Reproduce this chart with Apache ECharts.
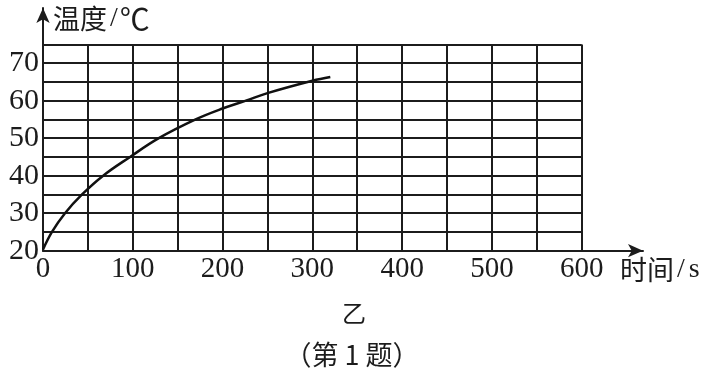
<!DOCTYPE html>
<html>
<head>
<meta charset="utf-8">
<script src="https://cdn.jsdelivr.net/npm/echarts@6/dist/echarts.min.js"></script>
<style>html,body{margin:0;padding:0;background:#fff}#c{width:714px;height:372px}</style>
</head>
<body>
<div id="c"></div>
<script>
// Data
const timeS = [0, 10, 24.5, 43.5, 67, 97, 129, 170, 200, 226, 250, 300, 320];
const tempC = [20.3, 25, 30, 35, 40, 45, 50, 55, 57.9, 60, 62, 65.3, 66.3];
const xLabels = [0, 100, 200, 300, 400, 500, 600];
const yLabels = [20, 30, 40, 50, 60, 70];
const yTitleName = '温度', yTitleUnit = '℃';
const xTitleName = '时间', xTitleUnit = 's';
const caption1 = '乙';
const caption2 = '（第 1 题）';

const ink = '#1c1c1c';
const serif = '"Liberation Serif", "DejaVu Serif", serif';
const cjkFont = '"Noto Sans CJK SC", serif';

const titleRich = {
  c: {fontFamily: cjkFont, fontSize: 27, fill: ink, color: ink},
  s: {fontFamily: serif, fontSize: 28, color: ink, padding: [0, 2, 0, 3]},
  u: {fontFamily: cjkFont, fontSize: 30, color: ink},
  v: {fontFamily: serif, fontSize: 28, color: ink, padding: [0, 0, 0, 2]}
};

const chart = echarts.init(document.getElementById('c'), null, {renderer: 'canvas'});
chart.setOption({
  backgroundColor: '#fff',
  animation: false,
  grid: [
    {left: 43, top: 44.4, right: 132.3, bottom: 121.3},
    {left: 43, top: 8, right: 71, bottom: 121.3}
  ],
  xAxis: [
    {
      type: 'value', gridIndex: 0, min: 0, max: 600, interval: 50,
      axisLine: {show: false}, axisTick: {show: false},
      splitLine: {show: true, lineStyle: {color: ink, width: 2}},
      axisLabel: {
        margin: 4, color: ink, fontFamily: serif, fontSize: 29,
        formatter: v => xLabels.indexOf(v) >= 0 ? String(v) : ''
      }
    },
    {
      type: 'value', gridIndex: 1, min: 0, max: 1,
      axisLine: {show: true, onZero: false, symbol: ['none', 'arrow'], symbolSize: [10, 15],
        lineStyle: {color: ink, width: 2}},
      axisTick: {show: false}, axisLabel: {show: false}, splitLine: {show: false}
    }
  ],
  yAxis: [
    {
      type: 'value', gridIndex: 0, min: 20, max: 75, interval: 5,
      axisLine: {show: false}, axisTick: {show: false},
      splitLine: {show: true, lineStyle: {color: ink, width: 2}},
      axisLabel: {
        margin: 4, color: ink, fontFamily: serif, fontSize: 30,
        formatter: v => yLabels.indexOf(v) >= 0 ? String(v) : ''
      }
    },
    {
      type: 'value', gridIndex: 1, min: 0, max: 1,
      axisLine: {show: true, onZero: false, symbol: ['none', 'arrow'], symbolSize: [10, 15],
        lineStyle: {color: ink, width: 2}},
      axisTick: {show: false}, axisLabel: {show: false}, splitLine: {show: false}
    }
  ],
  series: [{
    type: 'line', xAxisIndex: 0, yAxisIndex: 0,
    data: timeS.map((t, i) => [t, tempC[i]]),
    smooth: 0.4, symbol: 'none',
    lineStyle: {color: '#111', width: 2.5}
  }],
  graphic: [
    {type: 'text', x: 53, y: 19, style: {
      text: '{c|' + yTitleName + '}{s|/}{u|' + yTitleUnit + '}', rich: titleRich,
      fill: ink, textVerticalAlign: 'middle'}},
    {type: 'text', x: 620, y: 270, style: {
      text: '{c|' + xTitleName + '}{s|/}{v|' + xTitleUnit + '}', rich: titleRich,
      fill: ink, textVerticalAlign: 'middle'}},
    {type: 'text', x: 354, y: 313, style: {text: caption1, font: '24px "Noto Sans CJK SC"', fill: ink, textAlign: 'center', textVerticalAlign: 'middle'}},
    {type: 'text', x: 352, y: 355, style: {text: caption2, font: '27px "Noto Sans CJK SC"', fill: ink, textAlign: 'center', textVerticalAlign: 'middle'}}
  ]
});
</script>
</body>
</html>
